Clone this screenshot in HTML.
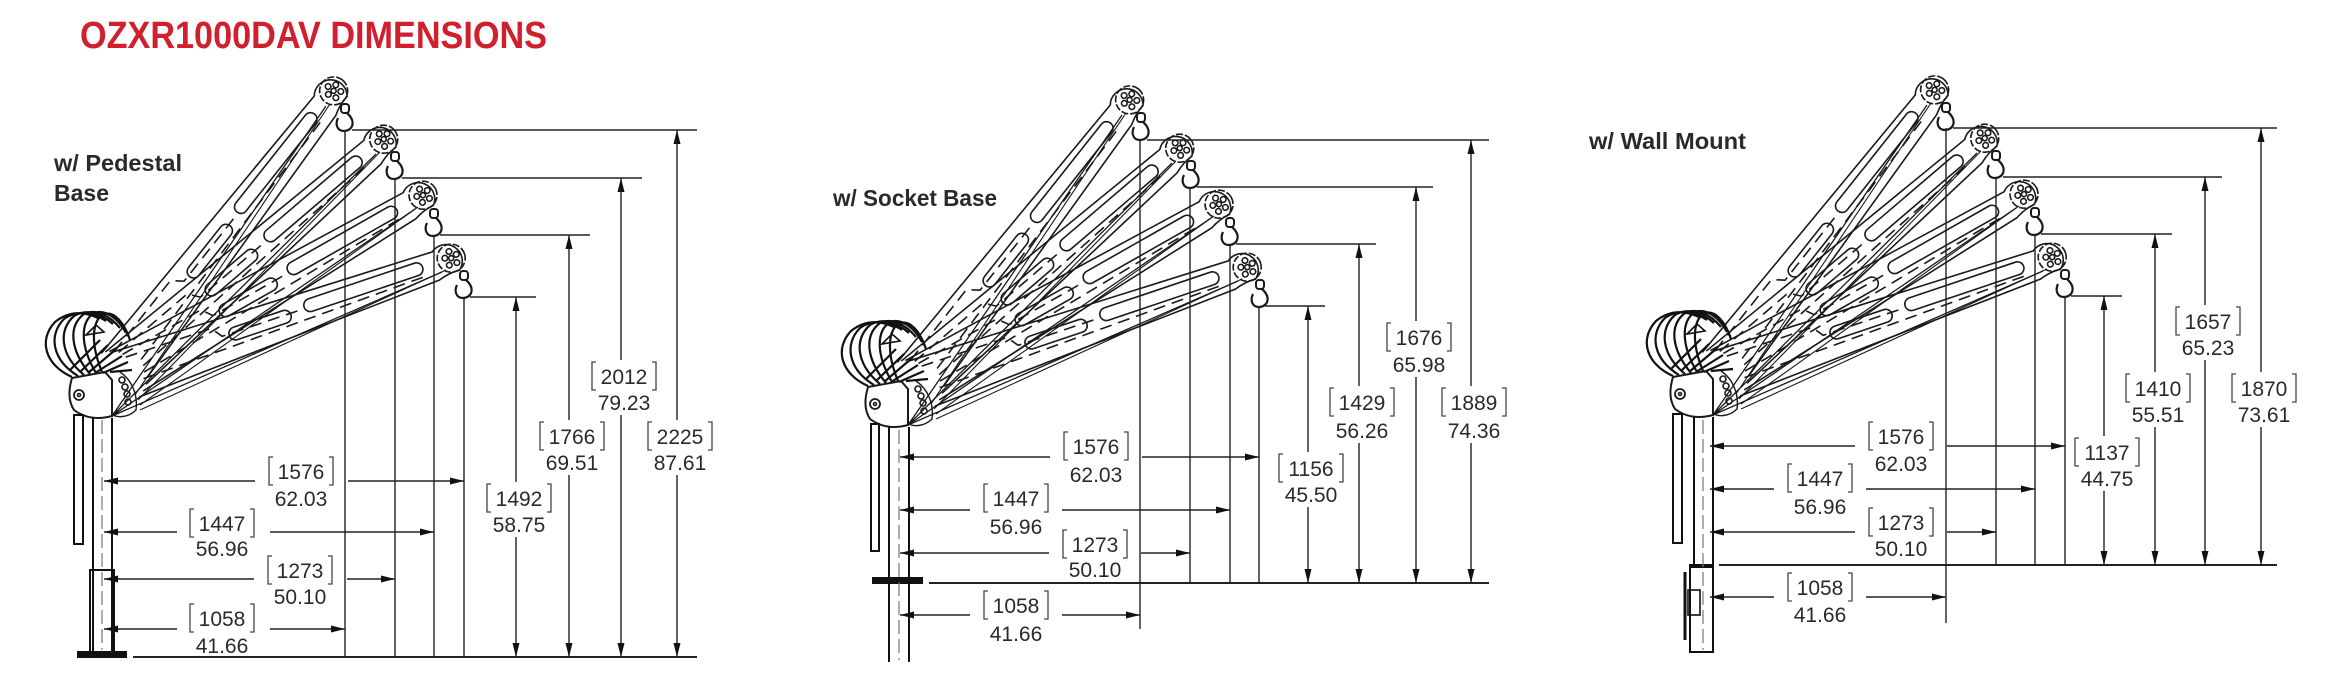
<!DOCTYPE html>
<html><head><meta charset="utf-8"><style>
html,body{margin:0;padding:0;background:#fff;}
svg{display:block;}
.t{font-family:"Liberation Sans",sans-serif;font-size:21px;fill:#2a2a2a;text-anchor:middle;}
.ln{stroke:#222;stroke-width:1.4;fill:none;}
.br{stroke:#444;stroke-width:1.3;fill:none;}
</style></head><body>
<svg width="2339" height="685" viewBox="0 0 2339 685" xmlns="http://www.w3.org/2000/svg">
<defs>
<marker id="a" viewBox="0 0 14 7" refX="14" refY="3.5" markerWidth="14" markerHeight="7" markerUnits="userSpaceOnUse" orient="auto"><path d="M0,0 L14,3.5 L0,7z" fill="#111"/></marker>
<g id="boom" fill="none" stroke="#1a1a1a" stroke-width="1.6">
  <path d="M10,-19 L344,-12 A15 15 0 1 1 364,14 Q354,13 342,17 L20,32"/>
  <rect x="205" y="-7" width="125" height="13" rx="6.5"/>
  <rect x="125" y="-4" width="65" height="13" rx="6.5"/>
  <path d="M20,-10 L110,-10 L118,1 L200,1" stroke-dasharray="12 7"/>
  <path d="M30,16 L330,9" stroke-dasharray="12 7"/>
  <circle cx="360" cy="0" r="14" stroke-dasharray="7 2"/>
  <circle cx="360" cy="0" r="2.5"/>
  <circle cx="360" cy="-7" r="2.8"/><circle cx="366" cy="-2" r="2.8"/><circle cx="364" cy="6" r="2.8"/><circle cx="356" cy="6" r="2.8"/><circle cx="354" cy="-2" r="2.8"/>
</g>
<g id="crane" fill="none" stroke="#1a1a1a" stroke-width="1.6">
  <use href="#boom" transform="translate(110,373) rotate(-51.6)"/>
  <use href="#boom" transform="translate(110,373) rotate(-40.5)"/>
  <use href="#boom" transform="translate(110,373) rotate(-29.6)"/>
  <use href="#boom" transform="translate(110,373) rotate(-18.6)"/>
  <path d="M326,106 L112,416 M376,154 L112,416 M415,209 L112,416 M442,272 L112,416" stroke-width="1.3"/>
  <path d="M330,104 L135,395 M380,152 L138,400 M418,207 L140,405 M446,270 L140,410" stroke-width="1.1"/>
  <rect x="341" y="104" width="8" height="9" rx="3" stroke-width="2"/>
  <path d="M347,113 C357,122 352,131 344,131 C337,131 335,124 338,118" stroke-width="2.2"/>
  <rect x="391" y="152" width="8" height="9" rx="3" stroke-width="2"/>
  <path d="M397,161 C407,170 402,179 394,179 C387,179 385,172 388,166" stroke-width="2.2"/>
  <rect x="430" y="209" width="8" height="9" rx="3" stroke-width="2"/>
  <path d="M436,218 C446,227 441,236 433,236 C426,236 424,229 427,223" stroke-width="2.2"/>
  <rect x="460" y="271" width="8" height="9" rx="3" stroke-width="2"/>
  <path d="M466,280 C476,289 471,298 463,298 C456,298 454,291 457,285" stroke-width="2.2"/>
  <g stroke="#111" stroke-width="2.2">
    <path d="M72,377 C45,365 38,340 55,322 C70,310 85,312 98,318"/>
    <path d="M78,376 C52,360 48,335 64,319 C78,309 94,313 106,321"/>
    <path d="M84,375 C60,355 58,330 74,316 C87,308 102,314 113,324"/>
    <path d="M90,374 C70,350 68,326 84,314 C96,308 110,316 120,328"/>
    <path d="M96,373 C80,346 80,322 94,313 C105,309 118,318 126,333"/>
    <path d="M102,372 C90,343 92,320 104,314 C114,311 124,322 130,340"/>
    <path d="M70,370 L100,340 M80,372 L108,345 M88,373 L115,350 M95,373 L122,356 M103,373 L128,362 M110,372 L132,370"/>
    <path d="M86,335 L96,325 L104,332 Z" stroke-width="1.6"/>
  </g>
  <path d="M72,378 L105,372 L112,380 L112,416 Q90,422 74,410 Q66,398 72,378 Z" stroke-width="2"/>
  <circle cx="79" cy="395" r="5" stroke-width="1.8"/><circle cx="79" cy="395" r="1.5"/>
  <path d="M120,372 C132,380 138,395 136,410 C128,418 116,418 112,414" stroke-width="1.4"/>
  <circle cx="122" cy="380" r="3"/><circle cx="125" cy="387" r="3"/><circle cx="127" cy="394" r="3"/><circle cx="128" cy="402" r="3"/>
</g>
</defs>

<text x="80" y="48" font-family="Liberation Sans,sans-serif" font-weight="bold" font-size="38" fill="#d0202e" textLength="467" lengthAdjust="spacingAndGlyphs">OZXR1000DAV DIMENSIONS</text>

<text x="54" y="171" font-family="Liberation Sans,sans-serif" font-weight="bold" font-size="23" fill="#2a2a2a" textLength="128" lengthAdjust="spacingAndGlyphs">w/ Pedestal</text>
<text x="54" y="201" font-family="Liberation Sans,sans-serif" font-weight="bold" font-size="23" fill="#2a2a2a">Base</text>
<use href="#crane"/>
<g fill="none" stroke="#111" stroke-width="2">
  <rect x="74" y="415" width="9" height="129"/>
  <line x1="93" y1="418" x2="93" y2="653"/><line x1="112" y1="418" x2="112" y2="653"/>
  <rect x="90" y="570" width="24" height="83"/>
  <rect x="78" y="652" width="48" height="5" fill="#111"/>
</g>
<line x1="102" y1="420" x2="102" y2="650" stroke="#777" stroke-width="1.2" stroke-dasharray="14 5"/>
<g class="ln">
  <line x1="133" y1="657" x2="697" y2="657" stroke-width="2"/>
  <line x1="345" y1="130" x2="345" y2="657"/><line x1="395" y1="178" x2="395" y2="657"/>
  <line x1="434" y1="235" x2="434" y2="657"/><line x1="464" y1="297" x2="464" y2="657"/>
  <line x1="352" y1="130" x2="697" y2="130"/><line x1="402" y1="178" x2="642" y2="178"/>
  <line x1="440" y1="235" x2="590" y2="235"/><line x1="470" y1="297" x2="536" y2="297"/>
  <line x1="255" y1="481" x2="104" y2="481" marker-end="url(#a)"/><line x1="348" y1="481" x2="464" y2="481" marker-end="url(#a)"/>
  <line x1="177" y1="532" x2="104" y2="532" marker-end="url(#a)"/><line x1="270" y1="532" x2="434" y2="532" marker-end="url(#a)"/>
  <line x1="254" y1="579" x2="104" y2="579" marker-end="url(#a)"/><line x1="347" y1="579" x2="395" y2="579" marker-end="url(#a)"/>
  <line x1="177" y1="629" x2="104" y2="629" marker-end="url(#a)"/><line x1="270" y1="629" x2="345" y2="629" marker-end="url(#a)"/>
  <line x1="516" y1="482" x2="516" y2="297" marker-end="url(#a)"/><line x1="516" y1="537" x2="516" y2="657" marker-end="url(#a)"/>
  <line x1="569" y1="420" x2="569" y2="235" marker-end="url(#a)"/><line x1="569" y1="475" x2="569" y2="657" marker-end="url(#a)"/>
  <line x1="621" y1="360" x2="621" y2="178" marker-end="url(#a)"/><line x1="621" y1="415" x2="621" y2="657" marker-end="url(#a)"/>
  <line x1="677" y1="420" x2="677" y2="130" marker-end="url(#a)"/><line x1="677" y1="475" x2="677" y2="657" marker-end="url(#a)"/>
</g>
<g class="br">
  <path d="M273,457 h-4 v28 h4 M329,457 h4 v28 h-4"/>
  <path d="M194,509 h-4 v28 h4 M250,509 h4 v28 h-4"/>
  <path d="M272,556 h-4 v28 h4 M328,556 h4 v28 h-4"/>
  <path d="M194,604 h-4 v28 h4 M250,604 h4 v28 h-4"/>
  <path d="M491,484 h-4 v28 h4 M547,484 h4 v28 h-4"/>
  <path d="M544,422 h-4 v28 h4 M600,422 h4 v28 h-4"/>
  <path d="M596,362 h-4 v28 h4 M652,362 h4 v28 h-4"/>
  <path d="M652,422 h-4 v28 h4 M708,422 h4 v28 h-4"/>
</g>
<g class="t">
  <text x="301" y="479">1576</text><text x="301" y="506">62.03</text>
  <text x="222" y="531">1447</text><text x="222" y="556">56.96</text>
  <text x="300" y="578">1273</text><text x="300" y="604">50.10</text>
  <text x="222" y="626">1058</text><text x="222" y="653">41.66</text>
  <text x="519" y="506">1492</text><text x="519" y="532">58.75</text>
  <text x="572" y="444">1766</text><text x="572" y="470">69.51</text>
  <text x="624" y="384">2012</text><text x="624" y="410">79.23</text>
  <text x="680" y="444">2225</text><text x="680" y="470">87.61</text>
</g>

<text x="833" y="206" font-family="Liberation Sans,sans-serif" font-weight="bold" font-size="23" fill="#2a2a2a" textLength="164" lengthAdjust="spacingAndGlyphs">w/ Socket Base</text>
<use href="#crane" transform="translate(796,9)"/>
<g fill="none" stroke="#111" stroke-width="2">
  <rect x="871" y="424" width="8" height="127"/>
  <line x1="889" y1="427" x2="889" y2="662"/><line x1="909" y1="427" x2="909" y2="662"/>
  <rect x="873" y="578" width="49" height="5" fill="#111"/>
</g>
<line x1="899" y1="430" x2="899" y2="660" stroke="#777" stroke-width="1.2" stroke-dasharray="14 5"/>
<g class="ln">
  <line x1="929" y1="583" x2="1489" y2="583" stroke-width="2"/>
  <line x1="1140" y1="140" x2="1140" y2="629"/><line x1="1190" y1="187" x2="1190" y2="583"/>
  <line x1="1230" y1="244" x2="1230" y2="583"/><line x1="1259" y1="306" x2="1259" y2="583"/>
  <line x1="1147" y1="140" x2="1489" y2="140"/><line x1="1197" y1="187" x2="1433" y2="187"/>
  <line x1="1236" y1="244" x2="1376" y2="244"/><line x1="1265" y1="306" x2="1325" y2="306"/>
  <line x1="1050" y1="457" x2="900" y2="457" marker-end="url(#a)"/><line x1="1142" y1="457" x2="1259" y2="457" marker-end="url(#a)"/>
  <line x1="970" y1="510" x2="900" y2="510" marker-end="url(#a)"/><line x1="1062" y1="510" x2="1230" y2="510" marker-end="url(#a)"/>
  <line x1="1049" y1="553" x2="900" y2="553" marker-end="url(#a)"/><line x1="1141" y1="553" x2="1190" y2="553" marker-end="url(#a)"/>
  <line x1="970" y1="615" x2="900" y2="615" marker-end="url(#a)"/><line x1="1062" y1="615" x2="1140" y2="615" marker-end="url(#a)"/>
  <line x1="1308" y1="452" x2="1308" y2="306" marker-end="url(#a)"/><line x1="1308" y1="507" x2="1308" y2="583" marker-end="url(#a)"/>
  <line x1="1359" y1="386" x2="1359" y2="244" marker-end="url(#a)"/><line x1="1359" y1="443" x2="1359" y2="583" marker-end="url(#a)"/>
  <line x1="1416" y1="321" x2="1416" y2="187" marker-end="url(#a)"/><line x1="1416" y1="377" x2="1416" y2="583" marker-end="url(#a)"/>
  <line x1="1471" y1="386" x2="1471" y2="140" marker-end="url(#a)"/><line x1="1471" y1="443" x2="1471" y2="583" marker-end="url(#a)"/>
</g>
<g class="br">
  <path d="M1068,432 h-4 v28 h4 M1124,432 h4 v28 h-4"/>
  <path d="M988,484 h-4 v28 h4 M1044,484 h4 v28 h-4"/>
  <path d="M1067,530 h-4 v28 h4 M1123,530 h4 v28 h-4"/>
  <path d="M988,591 h-4 v28 h4 M1044,591 h4 v28 h-4"/>
  <path d="M1283,454 h-4 v28 h4 M1339,454 h4 v28 h-4"/>
  <path d="M1334,388 h-4 v28 h4 M1390,388 h4 v28 h-4"/>
  <path d="M1391,323 h-4 v28 h4 M1447,323 h4 v28 h-4"/>
  <path d="M1446,388 h-4 v28 h4 M1502,388 h4 v28 h-4"/>
</g>
<g class="t">
  <text x="1096" y="454">1576</text><text x="1096" y="482">62.03</text>
  <text x="1016" y="506">1447</text><text x="1016" y="534">56.96</text>
  <text x="1095" y="552">1273</text><text x="1095" y="577">50.10</text>
  <text x="1016" y="613">1058</text><text x="1016" y="641">41.66</text>
  <text x="1311" y="476">1156</text><text x="1311" y="502">45.50</text>
  <text x="1362" y="410">1429</text><text x="1362" y="438">56.26</text>
  <text x="1419" y="345">1676</text><text x="1419" y="372">65.98</text>
  <text x="1474" y="410">1889</text><text x="1474" y="438">74.36</text>
</g>

<text x="1589" y="149" font-family="Liberation Sans,sans-serif" font-weight="bold" font-size="23" fill="#2a2a2a" textLength="157" lengthAdjust="spacingAndGlyphs">w/ Wall Mount</text>
<use href="#crane" transform="translate(1601,-1)"/>
<g fill="none" stroke="#111" stroke-width="2">
  <rect x="1673" y="414" width="9" height="129"/>
  <line x1="1694" y1="417" x2="1694" y2="565"/><line x1="1713" y1="417" x2="1713" y2="565"/>
  <rect x="1690" y="565" width="23" height="87"/>
  <line x1="1690" y1="566" x2="1713" y2="566" stroke-width="4"/>
  <line x1="1685" y1="572" x2="1685" y2="640" stroke-width="3"/>
  <rect x="1688" y="590" width="12" height="25" stroke-width="1.6"/>
</g>
<line x1="1703" y1="420" x2="1703" y2="650" stroke="#777" stroke-width="1.2" stroke-dasharray="14 5"/>
<g class="ln">
  <line x1="1719" y1="565" x2="2277" y2="565" stroke-width="2"/>
  <line x1="1946" y1="128" x2="1946" y2="623"/><line x1="1996" y1="177" x2="1996" y2="565"/>
  <line x1="2035" y1="234" x2="2035" y2="565"/><line x1="2065" y1="296" x2="2065" y2="565"/>
  <line x1="1953" y1="128" x2="2277" y2="128"/><line x1="2003" y1="177" x2="2222" y2="177"/>
  <line x1="2041" y1="234" x2="2172" y2="234"/><line x1="2071" y1="296" x2="2122" y2="296"/>
  <line x1="1855" y1="446" x2="1710" y2="446" marker-end="url(#a)"/><line x1="1947" y1="446" x2="2065" y2="446" marker-end="url(#a)"/>
  <line x1="1774" y1="489" x2="1710" y2="489" marker-end="url(#a)"/><line x1="1866" y1="489" x2="2035" y2="489" marker-end="url(#a)"/>
  <line x1="1855" y1="532" x2="1710" y2="532" marker-end="url(#a)"/><line x1="1947" y1="532" x2="1996" y2="532" marker-end="url(#a)"/>
  <line x1="1774" y1="597" x2="1710" y2="597" marker-end="url(#a)"/><line x1="1866" y1="597" x2="1946" y2="597" marker-end="url(#a)"/>
  <line x1="2104" y1="436" x2="2104" y2="296" marker-end="url(#a)"/><line x1="2104" y1="491" x2="2104" y2="565" marker-end="url(#a)"/>
  <line x1="2155" y1="372" x2="2155" y2="234" marker-end="url(#a)"/><line x1="2155" y1="427" x2="2155" y2="565" marker-end="url(#a)"/>
  <line x1="2205" y1="305" x2="2205" y2="177" marker-end="url(#a)"/><line x1="2205" y1="360" x2="2205" y2="565" marker-end="url(#a)"/>
  <line x1="2261" y1="372" x2="2261" y2="128" marker-end="url(#a)"/><line x1="2261" y1="427" x2="2261" y2="565" marker-end="url(#a)"/>
</g>
<g class="br">
  <path d="M1873,422 h-4 v28 h4 M1929,422 h4 v28 h-4"/>
  <path d="M1792,464 h-4 v28 h4 M1848,464 h4 v28 h-4"/>
  <path d="M1873,508 h-4 v28 h4 M1929,508 h4 v28 h-4"/>
  <path d="M1792,573 h-4 v28 h4 M1848,573 h4 v28 h-4"/>
  <path d="M2079,438 h-4 v28 h4 M2135,438 h4 v28 h-4"/>
  <path d="M2130,374 h-4 v28 h4 M2186,374 h4 v28 h-4"/>
  <path d="M2180,307 h-4 v28 h4 M2236,307 h4 v28 h-4"/>
  <path d="M2236,374 h-4 v28 h4 M2292,374 h4 v28 h-4"/>
</g>
<g class="t">
  <text x="1901" y="444">1576</text><text x="1901" y="471">62.03</text>
  <text x="1820" y="486">1447</text><text x="1820" y="514">56.96</text>
  <text x="1901" y="530">1273</text><text x="1901" y="556">50.10</text>
  <text x="1820" y="595">1058</text><text x="1820" y="622">41.66</text>
  <text x="2107" y="460">1137</text><text x="2107" y="486">44.75</text>
  <text x="2158" y="396">1410</text><text x="2158" y="422">55.51</text>
  <text x="2208" y="329">1657</text><text x="2208" y="355">65.23</text>
  <text x="2264" y="396">1870</text><text x="2264" y="422">73.61</text>
</g>
</svg>
</body></html>
